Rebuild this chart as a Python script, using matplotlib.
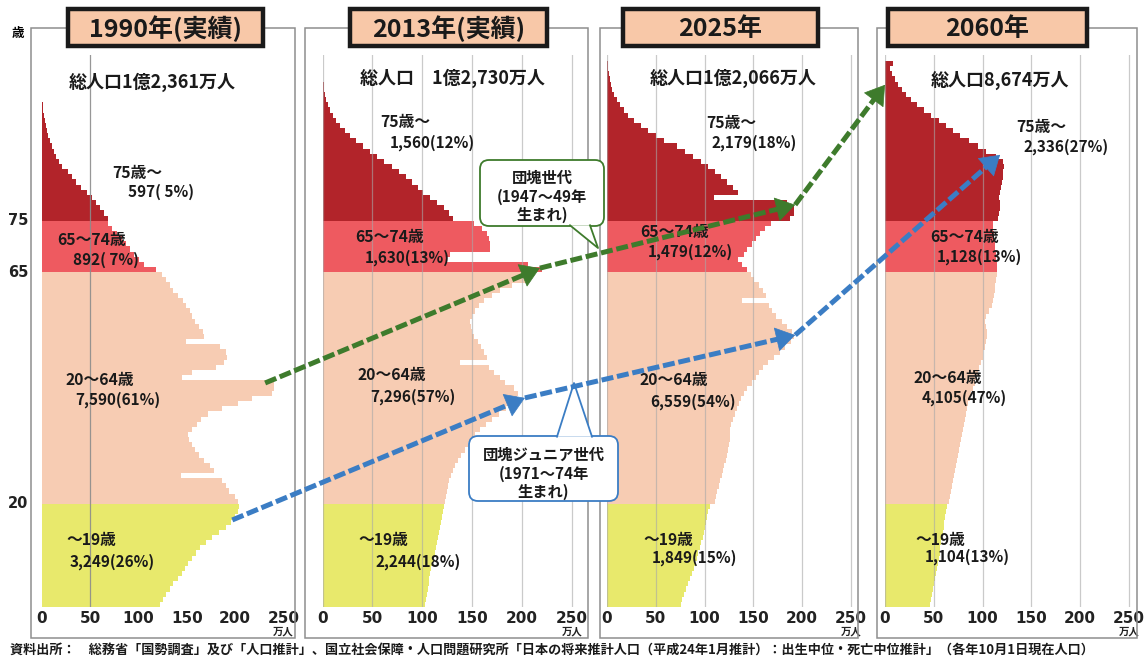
import numpy as np
import matplotlib
matplotlib.use("Agg")
import matplotlib.pyplot as plt
from matplotlib.patches import Rectangle, FancyBboxPatch, Polygon, FancyArrowPatch

plt.rcParams['font.family'] = ['Noto Sans CJK JP', 'DejaVu Sans']

# ---------------- data ----------------
panel_titles = ["1990年(実績)", "2013年(実績)", "2025年", "2060年"]
total_labels = ["総人口1億2,361万人", "総人口　1億2,730万人", "総人口1億2,066万人", "総人口8,674万人"]
group_names = ["～19歳", "20～64歳", "65～74歳", "75歳～"]
group_values_1990 = ["3,249(26%)", "7,590(61%)", "892( 7%)", "597( 5%)"]
group_values_2013 = ["2,244(18%)", "7,296(57%)", "1,630(13%)", "1,560(12%)"]
group_values_2025 = ["1,849(15%)", "6,559(54%)", "1,479(12%)", "2,179(18%)"]
group_values_2060 = ["1,104(13%)", "4,105(47%)", "1,128(13%)", "2,336(27%)"]
group_lower_ages = [0, 20, 65, 75]
x_ticks = [0, 50, 100, 150, 200, 250]
y_tick_ages = [20, 65, 75]

# population by single year of age (万人), age 0 upward
pop_1990 = [122, 125, 128, 132, 136, 141, 145, 148, 151, 155,
            159, 164, 170, 176, 183, 190, 196, 200, 203, 204,
            203, 200, 194, 190, 186, 144, 178, 174, 168, 163,
            158, 155, 152, 151, 155, 160, 165, 172, 186, 203,
            217, 238, 240, 240, 145, 155, 180, 188, 192, 190,
            184, 149, 168, 167, 163, 158, 155, 153, 149, 146,
            141, 136, 132, 128, 124,
            118, 106, 100, 95, 91, 87, 83, 78, 72, 68,
            68, 64, 60, 56, 52, 47, 40, 35, 31, 27,
            21, 18, 15, 12, 10, 8, 6, 5, 4, 3, 2, 1.5, 1]
pop_2013 = [103, 104, 105, 106, 107, 107, 108, 109, 111, 112,
            113, 114, 115, 116, 117, 118, 119, 120, 121, 122,
            123, 124, 125, 126, 127, 129, 131, 133, 136, 139,
            143, 146, 149, 153, 158, 164, 170, 177, 184, 190,
            195, 196, 192, 183, 178, 172, 167, 138, 165, 162,
            159, 156, 152, 150, 149, 148, 150, 153, 157, 162,
            170, 178, 190, 205, 212,
            220, 206, 125, 128, 168, 168, 167, 165, 160, 152,
            131, 127, 122, 115, 108, 101, 96, 90, 84, 77,
            70, 62, 55, 48, 41, 34, 28, 23, 18, 14,
            11, 8, 6, 4, 3, 2, 1.5]
pop_2025 = [76, 77, 79, 81, 83, 85, 87, 89, 90, 92,
            93, 95, 96, 98, 99, 101, 102, 103, 104, 106,
            111, 112, 113, 115, 116, 118, 119, 120, 122, 123,
            124, 125, 126, 126, 126, 127, 129, 131, 133, 135,
            137, 140, 144, 149, 153, 156, 160, 165, 171, 177,
            183, 189, 192, 190, 185, 179, 173, 169, 166, 138,
            163, 160, 156, 151, 148,
            144, 138, 134, 141, 144, 149, 153, 157, 162, 168,
            188, 192, 192, 185, 110, 134, 129, 123, 117, 111,
            104, 96, 88, 80, 72, 58, 50, 42, 35, 28,
            22, 17, 13, 10, 7, 5, 4, 3, 2, 1.5, 1]
pop_2060 = [46, 47, 48, 49, 50, 51, 52, 53, 54, 55,
            56, 56, 57, 58, 59, 60, 61, 62, 63, 64,
            66, 67, 68, 69, 70, 71, 72, 73, 74, 75,
            76, 77, 78, 79, 80, 81, 82, 83, 84, 85,
            87, 88, 90, 92, 93, 95, 96, 98, 100, 101,
            103, 104, 105, 105, 104, 103, 104, 107, 110, 111,
            112, 113, 113, 114, 115,
            115, 115, 114, 114, 113, 113, 112, 112, 111, 111,
            116, 117, 118, 118, 117, 118, 119, 120, 121, 121,
            122, 121, 114, 104, 95, 86, 77, 70, 63, 55,
            47, 40, 33, 27, 22, 17, 13, 10, 7, 5, 8]

# cohort tracking points (population 万人, age)
boomer_path = [(231, 43.5), (218, 65.8), (193, 78.1), (0, 101.4)]
junior_path = [(197, 16.9), (203, 40.6), (193, 52.8), (118, 87.8)]

source_note = ("資料出所：　総務省「国勢調査」及び「人口推計」、国立社会保障・人口問題研究所「日本の将来推計人口"
               "（平成24年1月推計）：出生中位・死亡中位推計」（各年10月1日現在人口）")

# ---------------- layout / style ----------------
FW, FH = 1145, 661
frames_px = [(31, 295), (305, 588), (600, 858), (877, 1137)]
frame_top, frame_bottom = 28, 638
zero_px = [42, 322.5, 607, 885]
px_per_unit = [0.966, 0.997, 0.975, 0.975]
age0_px, px_per_year, axes_top_px = 607, 5.15, 55
title_boxes = [(68, 263), (350, 547), (623, 818), (888, 1087)]
title_y0, title_y1 = 9, 46
total_pos = [(152, 82), (452, 78), (733, 78), (1000, 80)]
# (name_x, name_y, value_x, value_y) per group (0-19, 20-64, 65-74, 75+)
label_pos = [
    [(66, 540, 70, 562), (66, 380, 75, 400), (57, 240, 73, 260), (112, 173, 128, 192)],
    [(358, 540, 375, 562), (358, 375, 370, 397), (355, 237, 365, 258), (380, 122, 390, 143)],
    [(643, 540, 652, 558), (640, 380, 650, 402), (640, 232, 648, 252), (706, 123, 712, 143)],
    [(915, 540, 925, 557), (913, 378, 922, 398), (930, 237, 937, 257), (1016, 127, 1023, 147)],
]
group_colors = ['#E8E96C', '#F7CCB3', '#EE5A60', '#B2242A']
title_fill = '#F8C8A8'
green = '#3E7B2C'
blue = '#3B7DC4'

fig = plt.figure(figsize=(FW / 100, FH / 100), dpi=100)
fig.patch.set_facecolor('white')

pops = [pop_1990, pop_2013, pop_2025, pop_2060]
values = [group_values_1990, group_values_2013, group_values_2025, group_values_2060]
axes = []
for i in range(4):
    left = zero_px[i]
    right = frames_px[i][1]
    ax = fig.add_axes([left / FW, (FH - age0_px) / FH, (right - left) / FW,
                       (age0_px - axes_top_px) / FH])
    ax.set_xlim(0, (right - left) / px_per_unit[i])
    ax.set_ylim(0, (age0_px - axes_top_px) / px_per_year)
    pop = np.array(pops[i], dtype=float)
    ages = np.arange(len(pop))
    cols = [group_colors[np.searchsorted(group_lower_ages, a, side='right') - 1] for a in ages]
    ax.barh(ages + 0.5, pop, height=1.02, color=cols, linewidth=0,
            antialiased=False, zorder=2)
    grid = [50] if i == 0 else x_ticks
    for g in grid:
        ax.axvline(g, color='#8C8C8C' if i == 0 else '#A8A8A8', lw=0.9,
                   alpha=0.9 if i == 0 else 0.6, zorder=3)
    for s in ax.spines.values():
        s.set_visible(False)
    ax.set_facecolor('none')
    ax.set_xticks(x_ticks)
    ax.set_xticklabels([str(t) for t in x_ticks], fontsize=11, fontweight='bold',
                       color='#222222', family=['DejaVu Sans'])
    ax.tick_params(axis='x', length=0, pad=3)
    ax.set_yticks([])
    ax.annotate('万人', xy=(250, 0), xycoords='data', xytext=(0, -25),
                textcoords='offset pixels', ha='center', va='center',
                fontsize=7.5, fontweight='bold', color='#222222')
    axes.append(ax)

# y tick labels on the first panel
for a in y_tick_ages:
    axes[0].annotate(str(a), xy=(0, a), xycoords='data', xytext=(-24, 0),
                     textcoords='offset pixels', ha='center', va='center',
                     fontsize=10.5, fontweight='bold', color='#222222', family=['DejaVu Sans'],
                     annotation_clip=False)

# overlay in pixel coordinates
ov = fig.add_axes([0, 0, 1, 1], zorder=10)
ov.set_xlim(0, FW)
ov.set_ylim(FH, 0)
ov.axis('off')
ov.patch.set_alpha(0)

for (x0, x1) in frames_px:
    ov.add_patch(Rectangle((x0, frame_top), x1 - x0, frame_bottom - frame_top,
                           fill=False, edgecolor='#8E8E8E', lw=1.1))
ov.text(18, 33, '歳', ha='center', va='center', fontsize=9, fontweight='bold')

for i, (x0, x1) in enumerate(title_boxes):
    ov.add_patch(Rectangle((x0, title_y0), x1 - x0, title_y1 - title_y0,
                           facecolor=title_fill, edgecolor='#1A1A1A', lw=3.2, zorder=5))
    ov.text((x0 + x1) / 2, (title_y0 + title_y1) / 2 + 1, panel_titles[i], ha='center',
            va='center', fontsize=18, fontweight='bold', color='#1A1A1A', zorder=6)

for i in range(4):
    tx, ty = total_pos[i]
    ov.text(tx, ty, total_labels[i], ha='center', va='center', fontsize=13,
            fontweight='bold', color='#1A1A1A')
    for g in range(4):
        nx, ny, vx, vy = label_pos[i][g]
        ov.text(nx, ny, group_names[g], ha='left', va='center', fontsize=11.3,
                fontweight='bold', color='#1A1A1A')
        ov.text(vx, vy, values[i][g], ha='left', va='center', fontsize=11,
                fontweight='bold', color='#1A1A1A')


def to_px(ax, pt):
    dx, dy = ax.transData.transform(pt)
    return np.array([dx, FH - dy])


def draw_path(path, color):
    pts = [to_px(axes[k], p) for k, p in enumerate(path)]
    head = 13.0
    for a, b in zip(pts[:-1], pts[1:]):
        d = b - a
        u = d / np.hypot(*d)
        base = b - u * (head - 2)
        ov.plot([a[0], base[0]], [a[1], base[1]], color=color, lw=3.6,
                linestyle=(0, (2.4, 0.75)), dash_capstyle='butt', zorder=8)
        ov.add_patch(FancyArrowPatch(b - u * head, b, arrowstyle='-|>,head_length=5,head_width=3.2',
                                     mutation_scale=2.6, color=color, lw=0.5,
                                     shrinkA=0, shrinkB=0, zorder=8.5))


draw_path(boomer_path, green)
draw_path(junior_path, blue)


# callouts
def callout(x0, y0, x1, y1, wedge, color, lines, cy):
    box = FancyBboxPatch((x0, y0), x1 - x0, y1 - y0, boxstyle='round,pad=0,rounding_size=9',
                         facecolor='white', edgecolor=color, lw=1.3, zorder=7)
    ov.add_patch(box)
    ov.add_patch(Polygon(wedge, closed=True, facecolor='white', edgecolor='none', zorder=7.5))
    ov.plot([wedge[0][0], wedge[1][0], wedge[2][0]], [wedge[0][1], wedge[1][1], wedge[2][1]],
            color=color, lw=1.3, zorder=7.6)
    for k, t in enumerate(lines):
        ov.text((x0 + x1) / 2, cy[k], t, ha='center', va='center', fontsize=11,
                fontweight='bold', color='#1A1A1A', zorder=9)


callout(480, 160, 604, 226, [(570, 225.3), (598, 248), (590, 225.3)], green,
        ['団塊世代', '(1947～49年', '生まれ)'], [178, 197, 215])
callout(469, 436, 618, 501, [(557, 436.7), (574, 383), (592, 436.7)], blue,
        ['団塊ジュニア世代', '(1971～74年', '生まれ)'], [455, 474, 492])

ov.text(10, 650, source_note, ha='left', va='center', fontsize=9.45, fontweight='bold',
        color='#1A1A1A')

fig.savefig('out.png', dpi=100, facecolor='white')
